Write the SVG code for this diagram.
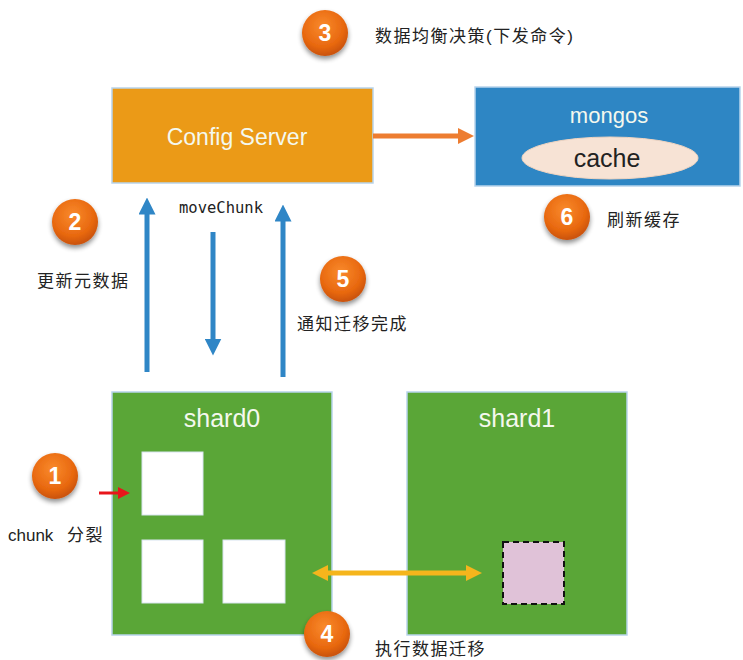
<svg xmlns="http://www.w3.org/2000/svg" width="743" height="660" viewBox="0 0 743 660">
<style>
.box{stroke:#b8d4ec;stroke-width:1.5}
.lbl{font-family:"Liberation Sans",Arial,sans-serif;fill:#f4f8ee}
.cn{font-family:"Liberation Sans","Noto Sans CJK SC",sans-serif;font-size:17px;letter-spacing:1.5px;fill:#222}
.num{font-family:"Liberation Sans",Arial,sans-serif;font-size:23px;font-weight:bold;fill:#fff;text-anchor:middle}
.white{fill:#fff;stroke:#d8e4f0;stroke-width:1}
</style>
<defs>
<radialGradient id="og" cx="45%" cy="35%" r="65%">
<stop offset="0" stop-color="#f98a2c"/>
<stop offset="0.7" stop-color="#e8680f"/>
<stop offset="1" stop-color="#c9520a"/>
</radialGradient>
<filter id="sh" x="-40%" y="-40%" width="180%" height="190%">
<feGaussianBlur in="SourceAlpha" stdDeviation="2.5"/>
<feOffset dx="0" dy="3" result="b"/>
<feComponentTransfer><feFuncA type="linear" slope="0.45"/></feComponentTransfer>
<feMerge><feMergeNode/><feMergeNode in="SourceGraphic"/></feMerge>
</filter>
<marker id="blueHead" viewBox="0 0 10 10" refX="5" refY="5" markerWidth="3.4" markerHeight="3.4" orient="auto">
<path d="M0,0 L10,5 L0,10 z" fill="#2f86c6"/>
</marker>
<marker id="orHead" viewBox="0 0 10 10" refX="5" refY="5" markerWidth="3.2" markerHeight="3.6" orient="auto">
<path d="M0,0 L10,5 L0,10 z" fill="#ed7d31"/>
</marker>
<marker id="redHead" viewBox="0 0 10 10" refX="5" refY="5" markerWidth="4" markerHeight="4" orient="auto">
<path d="M0,0 L10,5 L0,10 z" fill="#e8151b"/>
</marker>
<marker id="yHead" viewBox="0 0 10 10" refX="5" refY="5" markerWidth="3.2" markerHeight="3.4" orient="auto-start-reverse">
<path d="M0,0 L10,5 L0,10 z" fill="#f5b51c"/>
</marker>
</defs>

<g id="config-server">
<rect class="box" x="112" y="88" width="261" height="95" fill="#eb9a17"/>
<text class="lbl" x="237" y="145" font-size="23" text-anchor="middle" fill="#fdf3e0">Config Server</text>
</g>

<g id="mongos">
<rect class="box" x="475" y="87" width="265" height="99" fill="#2e86c4"/>
<text class="lbl" x="609" y="123" font-size="22" text-anchor="middle">mongos</text>
<ellipse cx="610" cy="158" rx="88" ry="21" fill="#f7e3d5" stroke="#f0d4c0" stroke-width="1"/>
<text x="607" y="167" font-family="Liberation Sans,Arial,sans-serif" font-size="25" text-anchor="middle" fill="#222">cache</text>
</g>

<g id="shard0">
<rect class="box" x="112" y="392" width="220" height="243" fill="#5aa637"/>
<text class="lbl" x="222" y="427" font-size="25" text-anchor="middle">shard0</text>
<rect class="white" x="142" y="452" width="61" height="63"/>
<rect class="white" x="142" y="540" width="61" height="63"/>
<rect class="white" x="223" y="540" width="62" height="63"/>
</g>

<g id="shard1">
<rect class="box" x="407" y="392" width="220" height="243" fill="#5aa637"/>
<text class="lbl" x="517" y="427" font-size="25" text-anchor="middle">shard1</text>
<rect x="503" y="542" width="61" height="62" fill="#e0c2d8" stroke="#111" stroke-width="2" stroke-dasharray="6,4"/>
</g>

<g id="connectors">
<line x1="373" y1="136" x2="466" y2="136" stroke="#ed7d31" stroke-width="5" marker-end="url(#orHead)"/>
<line x1="147" y1="372" x2="147" y2="206" stroke="#2f86c6" stroke-width="5" marker-end="url(#blueHead)"/>
<line x1="213" y1="232" x2="213" y2="347" stroke="#2f86c6" stroke-width="5" marker-end="url(#blueHead)"/>
<line x1="283" y1="377" x2="283" y2="213" stroke="#2f86c6" stroke-width="5" marker-end="url(#blueHead)"/>
<line x1="99" y1="493" x2="124" y2="493" stroke="#e8151b" stroke-width="3" marker-end="url(#redHead)"/>
<line x1="320" y1="573" x2="474" y2="573" stroke="#f5b51c" stroke-width="5" marker-start="url(#yHead)" marker-end="url(#yHead)"/>
</g>

<g id="labels">
<text x="179" y="213" font-family="DejaVu Sans Mono,monospace" font-size="15.5" fill="#222">moveChunk</text>
<text class="cn" x="375" y="42">数据均衡决策(下发命令)</text>
<text class="cn" x="607" y="226">刷新缓存</text>
<text class="cn" x="37" y="287">更新元数据</text>
<text class="cn" x="297" y="330">通知迁移完成</text>
<text class="cn" x="8" y="541" style="letter-spacing:0">chunk<tspan x="67" style="letter-spacing:1.5px">分裂</tspan></text>
<text class="cn" x="375" y="655">执行数据迁移</text>
</g>

<g id="step-badges">
<g filter="url(#sh)"><circle cx="325" cy="33" r="23" fill="url(#og)"/></g>
<text class="num" x="325" y="41">3</text>
<g filter="url(#sh)"><circle cx="75" cy="222" r="23" fill="url(#og)"/></g>
<text class="num" x="75" y="230">2</text>
<g filter="url(#sh)"><circle cx="567" cy="217" r="23" fill="url(#og)"/></g>
<text class="num" x="567" y="225">6</text>
<g filter="url(#sh)"><circle cx="343" cy="279" r="23" fill="url(#og)"/></g>
<text class="num" x="343" y="287">5</text>
<g filter="url(#sh)"><circle cx="55" cy="476" r="23" fill="url(#og)"/></g>
<text class="num" x="55" y="484">1</text>
<g filter="url(#sh)"><circle cx="327" cy="634" r="23" fill="url(#og)"/></g>
<text class="num" x="327" y="642">4</text>
</g>
</svg>
